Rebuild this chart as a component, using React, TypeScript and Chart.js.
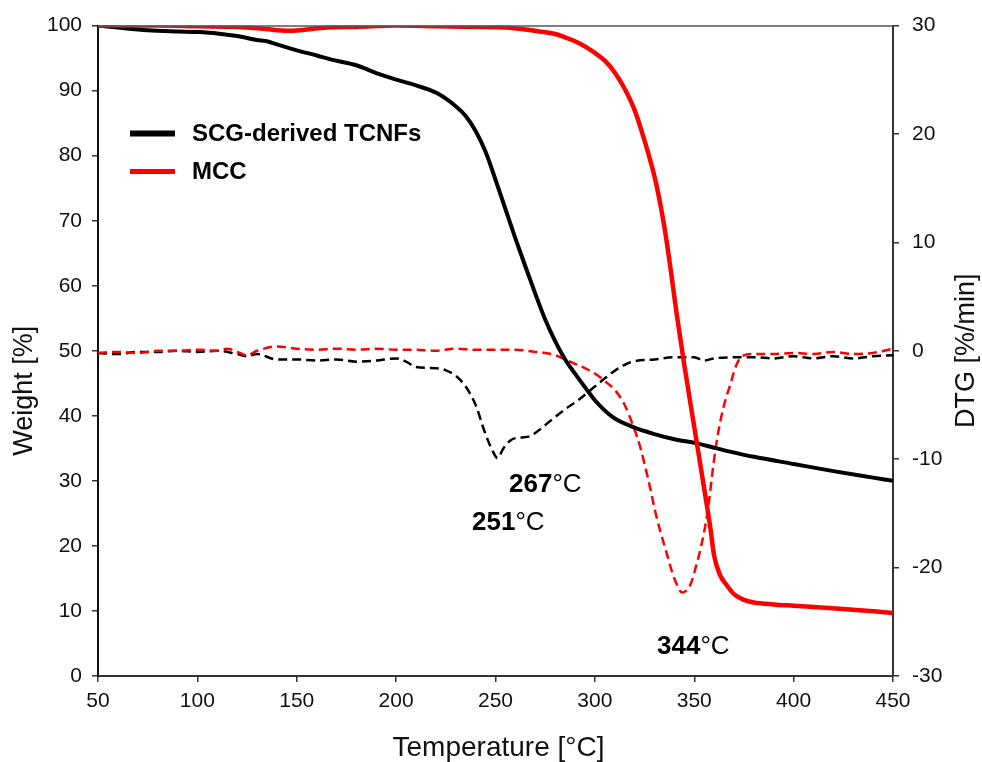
import React, { useEffect, useRef } from "react";
import { Chart, registerables } from "chart.js";

Chart.register(...registerables);

// TG curve, SCG-derived TCNFs: temperature [°C] / weight [%]
const tcnfTgTemp = [50, 60, 75, 90, 100, 110, 120, 130, 135, 140, 150, 160, 167, 180, 190, 200, 210, 220, 230, 235, 240, 245, 250, 255, 260, 265, 270, 275, 280, 286, 290, 296, 300, 309, 319, 330, 340, 351, 360, 368, 380, 400, 420, 440, 450];
const tcnfTgWeight = [100, 99.7, 99.3, 99.1, 99.0, 98.8, 98.4, 97.8, 97.6, 97.1, 96.2, 95.4, 94.8, 93.9, 92.7, 91.7, 90.8, 89.7, 87.6, 86.1, 83.8, 80.6, 76.3, 71.8, 67.3, 63, 58.8, 54.8, 51.5, 48.2, 46.5, 44, 42.4, 39.8, 38.3, 37.2, 36.4, 35.8, 35.1, 34.5, 33.7, 32.6, 31.5, 30.5, 30];

// TG curve, MCC
const mccTgTemp = [50, 80, 100, 120, 130, 140, 148, 155, 165, 180, 200, 220, 240, 255, 265, 272, 280, 285, 290, 295, 300, 305, 310, 315, 320, 325, 330, 332, 335, 338, 341, 345, 350, 355, 358, 360, 363, 366, 370, 375, 380, 390, 400, 425, 450];
const mccTgWeight = [100, 100, 99.9, 99.8, 99.6, 99.3, 99.2, 99.4, 99.7, 99.8, 100, 99.9, 99.8, 99.7, 99.4, 99.1, 98.7, 98.2, 97.6, 96.8, 95.8, 94.6, 92.8, 90.3, 87, 82.3, 76.8, 74, 69, 62.8, 56, 47.8, 38.3, 28.8, 23, 18.5, 15.5, 14.1, 12.6, 11.7, 11.3, 11, 10.8, 10.3, 9.7];

// DTG curve, SCG-derived TCNFs: temperature [°C] / DTG [%/min]
const tcnfDtgTemp = [50, 60, 70, 80, 90, 100, 110, 120, 125, 130, 140, 150, 160, 170, 180, 190, 200, 205, 210, 220, 225, 230, 235, 240, 245, 249, 251, 254, 258, 263, 267, 272, 278, 285, 292, 300, 306, 312, 319, 330, 340, 350, 355, 360, 370, 380, 390, 400, 410, 420, 430, 440, 450];
const tcnfDtgRate = [-0.2, -0.3, -0.1, -0.1, 0, -0.1, 0, -0.3, -0.5, -0.3, -0.8, -0.8, -0.9, -0.8, -1.0, -0.9, -0.7, -1.0, -1.5, -1.6, -1.8, -2.3, -3.3, -5.0, -7.7, -9.4, -9.9, -9.0, -8.2, -8.0, -7.9, -7.3, -6.4, -5.4, -4.5, -3.3, -2.4, -1.6, -1.0, -0.8, -0.6, -0.6, -0.9, -0.7, -0.6, -0.6, -0.7, -0.5, -0.7, -0.5, -0.7, -0.5, -0.4];

// DTG curve, MCC
const mccDtgTemp = [50, 60, 70, 80, 90, 100, 110, 115, 120, 125, 130, 140, 150, 160, 170, 180, 190, 200, 210, 220, 230, 240, 250, 260, 270, 275, 280, 285, 290, 295, 300, 305, 310, 315, 320, 323, 327, 331, 336, 340, 344, 348, 351, 354, 357, 359.5, 362, 365, 368, 371, 374, 380, 390, 400, 410, 420, 430, 440, 450];
const mccDtgRate = [-0.2, -0.1, -0.2, 0, 0, 0.1, 0, 0.2, -0.1, -0.4, 0, 0.4, 0.2, 0.1, 0.2, 0.1, 0.2, 0.1, 0.1, 0, 0.2, 0.1, 0.1, 0.1, -0.1, -0.2, -0.4, -0.8, -1.2, -1.6, -2.1, -2.8, -3.6, -5.0, -7.3, -9.0, -12.0, -15.3, -18.6, -21.0, -22.3, -21.6, -19.8, -17.6, -14.5, -10.7, -7.6, -5.0, -3.2, -1.4, -0.5, -0.3, -0.3, -0.2, -0.3, -0.1, -0.3, -0.2, 0.2];

// Peak temperature labels and where they sit (temperature, DTG)
const peakLabels = ["267", "251", "344"];
const peakLabelTemp = [256.8, 238.2, 331.3];
const peakLabelRate = [-12.4, -15.9, -27.3];

const seriesNames = ["SCG-derived TCNFs", "MCC"];
const axisTitles = { x: "Temperature [°C]", y: "Weight [%]", y2: "DTG [%/min]" };

const FONT = "'Liberation Sans', Arial, sans-serif";

const zip = (xs: number[], ys: number[]) => xs.map((x, i) => ({ x, y: ys[i] }));

const decorPlugin = {
  id: "decor",
  afterDatasetsDraw(chart: any) {
    const { ctx, chartArea, scales, width, height } = chart;
    ctx.save();
    // top frame line
    ctx.strokeStyle = "#555";
    ctx.lineWidth = 1.5;
    ctx.beginPath();
    ctx.moveTo(chartArea.left, chartArea.top + 0.5);
    ctx.lineTo(chartArea.right, chartArea.top + 0.5);
    ctx.stroke();

    // legend for the TG curves
    const legendColors = ["#000000", "#ff0000"];
    const legendWidths = [6, 5];
    seriesNames.forEach((name, i) => {
      const y = chartArea.top + 108 + i * 38;
      const x0 = chartArea.left + 32;
      ctx.strokeStyle = legendColors[i];
      ctx.lineWidth = legendWidths[i];
      ctx.beginPath();
      ctx.moveTo(x0, y);
      ctx.lineTo(x0 + 45, y);
      ctx.stroke();
      ctx.fillStyle = "#000";
      ctx.font = `bold 24px ${FONT}`;
      ctx.textBaseline = "middle";
      ctx.textAlign = "left";
      ctx.fillText(name, x0 + 62, y + 1);
    });

    // peak temperature annotations
    const xs = scales.x;
    const ys = scales.y2;
    peakLabels.forEach((lab, i) => {
      const px = xs.getPixelForValue(peakLabelTemp[i]);
      const py = ys.getPixelForValue(peakLabelRate[i]);
      ctx.textBaseline = "middle";
      ctx.textAlign = "left";
      ctx.fillStyle = "#000";
      ctx.font = `bold 26px ${FONT}`;
      ctx.fillText(lab, px, py);
      const w = ctx.measureText(lab).width;
      ctx.font = `26px ${FONT}`;
      ctx.fillText("°C", px + w, py);
    });

    // axis titles
    ctx.fillStyle = "#111";
    ctx.textAlign = "center";
    ctx.textBaseline = "middle";
    ctx.font = `28px ${FONT}`;
    ctx.fillText(axisTitles.x, (chartArea.left + chartArea.right) / 2 + 3, height - 14);

    ctx.font = `27px ${FONT}`;
    ctx.save();
    ctx.translate(25, (chartArea.top + chartArea.bottom) / 2 + 40);
    ctx.rotate(-Math.PI / 2);
    ctx.fillText(axisTitles.y, 0, 0);
    ctx.restore();

    ctx.save();
    ctx.translate(width - 15, (chartArea.top + chartArea.bottom) / 2);
    ctx.rotate(-Math.PI / 2);
    ctx.fillText(axisTitles.y2, 0, 0);
    ctx.restore();

    ctx.restore();
  },
};

export default function App() {
  const ref = useRef<HTMLCanvasElement | null>(null);

  useEffect(() => {
    if (!ref.current) return;
    const tickFont = { family: FONT, size: 21 };
    const axisGrid = { drawOnChartArea: false, drawTicks: true, tickLength: 6, color: "#333", lineWidth: 1.5 };
    const chart = new Chart(ref.current, {
      type: "line",
      data: {
        datasets: [
          {
            label: seriesNames[0],
            data: zip(tcnfTgTemp, tcnfTgWeight),
            yAxisID: "y",
            borderColor: "#000000",
            borderWidth: 4,
            pointRadius: 0,
            cubicInterpolationMode: "monotone",
            order: 1,
          },
          {
            label: seriesNames[1],
            data: zip(mccTgTemp, mccTgWeight),
            yAxisID: "y",
            borderColor: "#ff0000",
            borderWidth: 4.5,
            pointRadius: 0,
            cubicInterpolationMode: "monotone",
            order: 0,
          },
          {
            label: seriesNames[0] + " DTG",
            data: zip(tcnfDtgTemp, tcnfDtgRate),
            yAxisID: "y2",
            borderColor: "#000000",
            borderWidth: 2.5,
            borderDash: [9, 5],
            pointRadius: 0,
            cubicInterpolationMode: "monotone",
            order: 3,
          },
          {
            label: seriesNames[1] + " DTG",
            data: zip(mccDtgTemp, mccDtgRate),
            yAxisID: "y2",
            borderColor: "#ff0000",
            borderWidth: 2.5,
            borderDash: [9, 5],
            pointRadius: 0,
            cubicInterpolationMode: "monotone",
            order: 2,
          },
        ],
      },
      options: {
        responsive: false,
        animation: false,
        layout: { padding: { top: 25, left: 0, right: 0, bottom: 0 } },
        plugins: { legend: { display: false }, tooltip: { enabled: false } },
        scales: {
          x: {
            type: "linear",
            min: 50,
            max: 450,
            ticks: { stepSize: 50, color: "#111", font: tickFont, padding: 7 },
            grid: axisGrid,
            border: { display: true, color: "#333", width: 2 },
            afterFit: (s: any) => { s.height = 86; },
          },
          y: {
            type: "linear",
            position: "left",
            min: 0,
            max: 100,
            ticks: { stepSize: 10, color: "#111", font: tickFont, padding: 10 },
            grid: axisGrid,
            border: { display: true, color: "#111", width: 2 },
            afterFit: (s: any) => { s.width = 98; },
          },
          y2: {
            type: "linear",
            position: "right",
            min: -30,
            max: 30,
            ticks: { stepSize: 10, color: "#111", font: tickFont, padding: 13 },
            grid: axisGrid,
            border: { display: true, color: "#333", width: 2 },
            afterFit: (s: any) => { s.width = 89; },
          },
        },
      } as any,
      plugins: [decorPlugin],
    });
    return () => chart.destroy();
  }, []);

  return (
    <div style={{ position: "absolute", left: 0, top: 0, width: 982, height: 762, background: "#fff" }}>
      <canvas ref={ref} width={982} height={762} style={{ display: "block" }} />
    </div>
  );
}
